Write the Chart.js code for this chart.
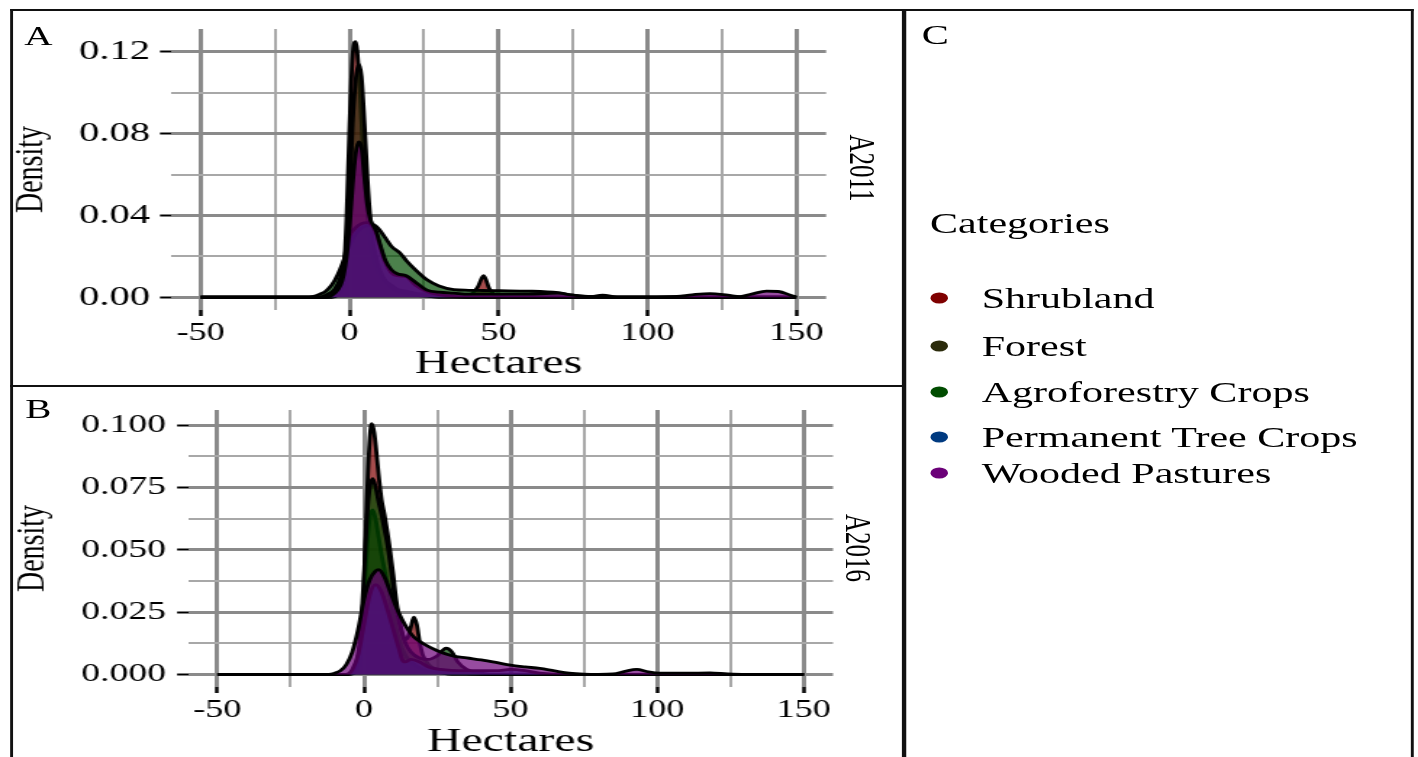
<!DOCTYPE html>
<html>
<head>
<meta charset="utf-8">
<script src="https://cdn.jsdelivr.net/npm/chart.js@4.4.1/dist/chart.umd.min.js"></script>
<style>
  html, body { margin: 0; padding: 0; background: #fff; overflow: hidden; }
  /* the source figure is stretched sideways, so draw narrow and scale */
  #page { position: absolute; left: 0; top: 0; width: 978px; height: 757px;
          transform: scaleX(1.45); transform-origin: 0 0;
          font-family: 'Liberation Serif', 'Times New Roman', serif; color: #000; }
  canvas { position: absolute; left: 0; }
  .rule { position: absolute; background: #111; z-index: 2; }
  .lbl { position: absolute; white-space: nowrap; line-height: 1; transform: translate(-50%, -50%); }
  .strip { transform: translate(-50%, -50%) rotate(90deg); }
  .leg { position: absolute; white-space: nowrap; line-height: 1; font-size: 29px; transform: translateY(-50%); }
  .dot { position: absolute; width: 12.5px; height: 11px; border-radius: 50%; transform: translate(-50%, -50%); }
</style>
</head>
<body>
<div id="page">
  <canvas id="chartA" width="622" height="385" style="top:0;width:622px;height:385px"></canvas>
  <canvas id="chartB" width="622" height="380" style="top:385px;width:622px;height:380px"></canvas>

  <div class="rule" style="left:6.8px;top:9px;width:968.5px;height:2px"></div>
  <div class="rule" style="left:6.8px;top:9px;width:2px;height:760px"></div>
  <div class="rule" style="left:973.3px;top:9px;width:2px;height:760px"></div>
  <div class="rule" style="left:622px;top:9px;width:2.6px;height:760px"></div>
  <div class="rule" style="left:6.8px;top:385px;width:616px;height:2px"></div>

  <div class="lbl" style="left:26.5px;top:35.5px;font-size:27px">A</div>
  <div class="lbl" style="left:26.5px;top:409px;font-size:27px">B</div>
  <div class="lbl" style="left:645px;top:35px;font-size:28px">C</div>
  <div class="lbl strip" style="left:595px;top:168px;font-size:25px">A2011</div>
  <div class="lbl strip" style="left:591.7px;top:548px;font-size:25px">A2016</div>

  <div class="leg" style="left:641.4px;top:223px">Categories</div>
  <div id="legend"></div>
</div>

<script>
Chart.defaults.font.family = "'Liberation Serif', 'Times New Roman', serif";
Chart.defaults.color = '#000';

const seriesNames = ['Shrubland', 'Forest', 'Agroforestry Crops', 'Permanent Tree Crops', 'Wooded Pastures'];
const seriesColors = ['#7f0000', '#2b2b0b', '#004c00', '#003a80', '#6b0078'];
const fillColors = ['rgba(127,0,0,0.7)', 'rgba(43,43,11,0.7)', 'rgba(0,76,0,0.7)', 'rgba(0,58,128,0.7)', 'rgba(107,0,120,0.7)'];

const xMajor = [-50, 0, 50, 100, 150];
const xLabels = ['-50', '0', '50', '100', '150'];
const xMinor = [-25, 25, 75, 125];

const yMajorA = [0, 0.04, 0.08, 0.12];
const yLabelsA = ['0.00', '0.04', '0.08', '0.12'];
const yMinorA = [0.02, 0.06, 0.10];

const yMajorB = [0, 0.025, 0.05, 0.075, 0.1];
const yLabelsB = ['0.000', '0.025', '0.050', '0.075', '0.100'];
const yMinorB = [0.0125, 0.0375, 0.0625, 0.0875];

// panel A (2011) densities, [hectares, density]
const shrublandA = [[-50,0],[-8,0],[-5,0.0005],[-3,0.004],[-2,0.012],[-1,0.04],[0,0.085],[1,0.118],[2,0.125],[3,0.112],[4,0.085],[5,0.058],[6,0.04],[7,0.028],[8,0.02],[10,0.012],[12,0.008],[14,0.006],[16,0.004],[19,0.003],[22,0.002],[26,0.0015],[30,0.001],[35,0.0008],[40,0.001],[43,0.005],[45,0.0105],[47,0.004],[50,0.0005],[60,0],[150,0]];
const forestA = [[-50,0],[-6,0],[-4,0.001],[-3,0.003],[-2,0.008],[-1,0.022],[0,0.05],[1,0.085],[2,0.106],[3,0.114],[4,0.108],[5,0.085],[6,0.058],[7,0.038],[8,0.026],[10,0.014],[12,0.008],[14,0.005],[16,0.003],[19,0.002],[22,0.001],[26,0.0005],[30,0],[80,0],[85,0.001],[90,0],[150,0]];
const agroA = [[-50,0],[-15,0],[-12,0.0005],[-10,0.0015],[-8,0.003],[-6,0.006],[-4,0.011],[-2,0.018],[0,0.026],[2,0.031],[4,0.034],[6,0.035],[8,0.0355],[9,0.0345],[10,0.033],[12,0.029],[14,0.025],[17,0.0215],[19,0.018],[22,0.0135],[26,0.0085],[30,0.0055],[35,0.0037],[40,0.0034],[45,0.0033],[50,0.0032],[60,0.003],[70,0.0022],[75,0.001],[80,0.0004],[90,0],[150,0]];
const permanentA = [[-50,0],[-10,0],[-8,0.001],[-5,0.004],[-3,0.01],[-2,0.017],[-1,0.025],[0,0.03],[2,0.034],[4,0.036],[6,0.0365],[7,0.036],[8,0.034],[9,0.031],[10,0.026],[12,0.017],[14,0.012],[16,0.0105],[19,0.01],[22,0.006],[26,0.0028],[30,0.0012],[35,0.0003],[40,0],[150,0]];
const woodedA = [[-50,0],[-8,0],[-5,0.002],[-3,0.006],[-2,0.011],[-1,0.02],[0,0.035],[1,0.055],[2,0.07],[3,0.076],[4,0.073],[5,0.058],[6,0.045],[7,0.038],[8,0.035],[9,0.032],[10,0.027],[12,0.018],[14,0.0135],[16,0.0115],[19,0.0105],[22,0.0075],[26,0.0035],[30,0.0025],[35,0.002],[40,0.0015],[50,0.0015],[60,0.0015],[66,0.0018],[70,0.002],[75,0.001],[80,0.0003],[90,0],[100,0],[110,0.0004],[115,0.0012],[121,0.0018],[127,0.001],[131,0.0003],[135,0.0015],[140,0.003],[144,0.0028],[148,0.001],[150,0]];

// panel B (2016) densities
const shrublandB = [[-50,0],[-6,0],[-3,0.001],[-2,0.003],[-1,0.01],[0,0.035],[1,0.07],[2,0.095],[2.7,0.1006],[3.5,0.097],[4,0.092],[5,0.08],[6,0.07],[7,0.064],[8,0.057],[9,0.049],[10,0.04],[11,0.03],[12,0.023],[13,0.017],[14,0.014],[15,0.015],[16,0.019],[17,0.023],[18,0.02],[19,0.013],[20,0.008],[22,0.004],[25,0.002],[30,0.001],[40,0],[150,0]];
const forestB = [[-50,0],[-5,0],[-3,0.001],[-2,0.004],[-1,0.012],[0,0.03],[1,0.05],[2,0.063],[3,0.066],[4,0.062],[5,0.055],[6,0.048],[7,0.042],[8,0.036],[10,0.024],[12,0.014],[14,0.008],[16,0.005],[20,0.002],[25,0.001],[30,0],[150,0]];
const agroB = [[-50,0],[-6,0],[-4,0.001],[-3,0.003],[-2,0.008],[-1,0.02],[0,0.04],[1,0.062],[2,0.075],[3,0.0785],[4,0.075],[5,0.069],[6,0.064],[7,0.058],[8,0.052],[9,0.044],[10,0.035],[11,0.027],[12,0.021],[14,0.013],[16,0.009],[19,0.0065],[22,0.006],[25,0.0075],[28,0.0105],[30,0.009],[32,0.005],[35,0.002],[40,0.0005],[45,0],[150,0]];
const permanentB = [[-50,0],[-6,0],[-4,0.002],[-2,0.008],[0,0.02],[2,0.032],[4,0.036],[6,0.033],[8,0.026],[10,0.018],[12,0.01],[13,0.006],[14,0.005],[16,0.006],[19,0.005],[22,0.003],[26,0.002],[35,0.0015],[45,0.0015],[50,0.002],[55,0.0015],[60,0.0005],[70,0],[150,0]];
const woodedB = [[-50,0],[-12,0],[-10,0.0005],[-8,0.0015],[-6,0.004],[-4,0.009],[-2,0.018],[0,0.03],[2,0.038],[4,0.0415],[5,0.042],[7,0.039],[9,0.033],[11,0.027],[13,0.022],[15,0.018],[17,0.015],[20,0.0125],[25,0.0095],[30,0.0075],[35,0.0066],[40,0.0058],[45,0.0048],[50,0.0037],[55,0.003],[60,0.0024],[65,0.0014],[70,0.0005],[75,0.0001],[80,0],[85,0.0002],[89,0.0012],[93,0.002],[97,0.001],[101,0.0005],[110,0.0005],[118,0.0006],[124,0.0002],[130,0],[150,0]];

function gridStyle(majors, tickW) {
  const isMajor = c => c.tick && majors.includes(c.tick.value);
  return {
    color: c => isMajor(c) ? '#8a8a8a' : '#a8a8a8',
    lineWidth: c => isMajor(c) ? 3 : 2,
    tickColor: c => isMajor(c) ? '#000' : 'rgba(0,0,0,0)',
    tickWidth: tickW
  };
}

function makePanel(id, series, p) {
  const xAll = xMajor.concat(xMinor).sort((a, b) => a - b);
  const yAll = p.yMajor.concat(p.yMinor).sort((a, b) => a - b);
  return new Chart(document.getElementById(id), {
    type: 'line',
    data: {
      datasets: series.map((pts, i) => ({
        label: seriesNames[i],
        data: pts.map(([x, y]) => ({ x, y })),
        order: seriesNames.length - i,
        fill: 'origin',
        backgroundColor: fillColors[i],
        borderColor: '#000',
        borderWidth: 2.8,
        pointRadius: 0,
        cubicInterpolationMode: 'monotone'
      }))
    },
    options: {
      responsive: false,
      animation: false,
      events: [],
      layout: { padding: { left: 0, top: p.top, right: p.right, bottom: 0 } },
      plugins: { legend: { display: false }, tooltip: { enabled: false } },
      scales: {
        x: {
          type: 'linear', min: -60, max: 160,
          afterBuildTicks: axis => { axis.ticks = xAll.map(v => ({ value: v })); },
          afterFit: axis => { axis.height = p.xAxisH; },
          border: { display: false },
          grid: Object.assign(gridStyle(xMajor, 2.5), { tickLength: 6 }),
          ticks: {
            autoSkip: false, maxRotation: 0, padding: 2, font: { size: 25 },
            callback: v => { const i = xMajor.indexOf(v); return i < 0 ? '' : xLabels[i]; }
          },
          title: { display: true, text: 'Hectares', font: { size: 33 }, padding: { top: 0, bottom: p.xTitlePad } }
        },
        y: {
          type: 'linear', min: p.yMin, max: p.yMax,
          afterBuildTicks: axis => { axis.ticks = yAll.map(v => ({ value: v })); },
          afterFit: axis => { axis.width = p.yAxisW; },
          border: { display: false },
          grid: Object.assign(gridStyle(p.yMajor, 2), { tickLength: 7.6 }),
          ticks: {
            autoSkip: false, padding: p.yTickPad, font: { size: p.yFont },
            callback: v => { const i = p.yMajor.indexOf(v); return i < 0 ? '' : p.yLabels[i]; }
          },
          title: { display: true, text: 'Density', font: { size: 28 }, padding: { top: p.yTitlePad, bottom: 0 } }
        }
      }
    }
  });
}

makePanel('chartA', [shrublandA, forestA, agroA, permanentA, woodedA], {
  yMin: -0.00625, yMax: 0.13125, yMajor: yMajorA, yMinor: yMinorA, yLabels: yLabelsA, yFont: 28,
  top: 29, right: 52.3, xAxisH: 75, yAxisW: 117.9, xTitlePad: 1.2, yTitlePad: 4.9, yTickPad: 6.9
});

makePanel('chartB', [shrublandB, forestB, agroB, permanentB, woodedB], {
  yMin: -0.00505, yMax: 0.10605, yMajor: yMajorB, yMinor: yMinorB, yLabels: yLabelsB, yFont: 26,
  top: 25, right: 47.5, xAxisH: 78, yAxisW: 129.7, xTitlePad: 3.2, yTitlePad: 5.6, yTickPad: 7.6
});

// legend for panel C
const legendRowY = [298, 346, 392, 437, 473];
const legend = document.getElementById('legend');
seriesNames.forEach((name, i) => {
  const dot = document.createElement('div');
  dot.className = 'dot';
  dot.style.left = '647.6px';
  dot.style.top = legendRowY[i] + 'px';
  dot.style.background = seriesColors[i];
  legend.appendChild(dot);
  const txt = document.createElement('div');
  txt.className = 'leg';
  txt.style.left = '677px';
  txt.style.top = legendRowY[i] + 'px';
  txt.textContent = name;
  legend.appendChild(txt);
});
</script>
</body>
</html>
